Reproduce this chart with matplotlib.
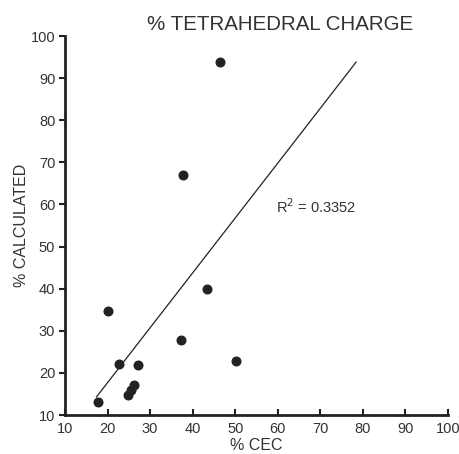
import matplotlib

matplotlib.use("Agg")
import matplotlib.pyplot as plt

plt.rcParams["font.family"] = ["Liberation Sans", "DejaVu Sans"]

# points
cec = [46.4, 37.7, 43.4, 20.2, 37.3, 50.1, 22.7, 27.1, 26.1, 25.4, 24.9, 17.7]
calc = [93.8, 67.0, 40.0, 34.8, 27.8, 22.9, 22.0, 21.9, 17.1, 15.9, 14.7, 13.1]

# trend line end points as drawn
trend_x = [17.4, 78.4]
trend_y = [14.3, 93.8]

ticks = [10, 20, 30, 40, 50, 60, 70, 80, 90, 100]
ink = "#222222"
txt = "#333333"

fig = plt.figure(figsize=(4.6, 4.54), dpi=100)
ax = fig.add_axes([0.1413, 0.0859, 0.8327, 0.8348])

ax.plot(cec, calc, "o", color=ink, ms=6.2, clip_on=False, zorder=3)
ax.plot(trend_x, trend_y, color=ink, lw=0.9)

ax.set_xlim(10, 100)
ax.set_ylim(10, 100)
ax.set_xticks(ticks)
ax.set_yticks(ticks)
ax.tick_params(axis="x", direction="in", length=4, width=1.5, color=ink,
               labelsize=10.5, labelcolor=txt, pad=5)
ax.tick_params(axis="y", direction="out", length=4, width=1.5, color=ink,
               labelsize=10.5, labelcolor=txt, pad=3)
for side in ["top", "right"]:
    ax.spines[side].set_visible(False)
for side in ["left", "bottom"]:
    ax.spines[side].set_linewidth(2)
    ax.spines[side].set_color(ink)

ax.set_xlabel("% CEC", fontsize=11.5, color=txt, labelpad=1.5)
ax.set_ylabel("% CALCULATED", fontsize=11.5, color=txt, labelpad=1)
fig.text(0.609, 0.946, "% TETRAHEDRAL CHARGE", fontsize=14.8, color=txt,
         ha="center", va="center")
ax.text(59.6, 59.4, "R$^2$ = 0.3352", fontsize=10.5, color=txt,
        ha="left", va="center")

fig.savefig("out.png", dpi=100)
